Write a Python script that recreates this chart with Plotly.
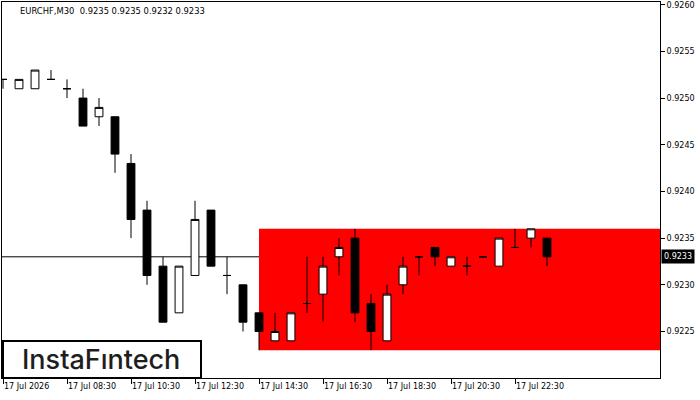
import plotly.graph_objects as go

# ---- data (EURCHF M30) ----
idx = list(range(35))
opens  = [0.9252, 0.9251, 0.9251, 0.9252, 0.9251, 0.9250, 0.9248, 0.9248, 0.9243, 0.9238,
          0.9232, 0.9227, 0.9231, 0.9238, 0.9231, 0.9230, 0.9227, 0.9224, 0.9224, 0.9228,
          0.9229, 0.9233, 0.9235, 0.9228, 0.9224, 0.9230, 0.9233, 0.9234, 0.9232, 0.9232,
          0.9233, 0.9232, 0.9234, 0.9235, 0.9235]
highs  = [0.9252, 0.9252, 0.9253, 0.9253, 0.9252, 0.9251, 0.9250, 0.9248, 0.9244, 0.9239,
          0.9233, 0.9232, 0.9239, 0.9238, 0.9233, 0.9230, 0.9227, 0.9227, 0.9227, 0.9233,
          0.9233, 0.9235, 0.9236, 0.9229, 0.9230, 0.9233, 0.9233, 0.9234, 0.9233, 0.9233,
          0.9233, 0.9235, 0.9236, 0.9236, 0.9235]
lows   = [0.9251, 0.9251, 0.9251, 0.9252, 0.9250, 0.9247, 0.9247, 0.9242, 0.9235, 0.9230,
          0.9226, 0.9227, 0.9231, 0.9232, 0.9229, 0.9225, 0.9223, 0.9224, 0.9224, 0.9227,
          0.9226, 0.9231, 0.9226, 0.9223, 0.9224, 0.9229, 0.9231, 0.9232, 0.9232, 0.9231,
          0.9233, 0.9232, 0.9234, 0.9234, 0.9232]
closes = [0.9252, 0.9252, 0.9253, 0.9252, 0.9251, 0.9247, 0.9249, 0.9244, 0.9237, 0.9231,
          0.9226, 0.9232, 0.9237, 0.9232, 0.9231, 0.9226, 0.9225, 0.9225, 0.9227, 0.9228,
          0.9232, 0.9234, 0.9227, 0.9225, 0.9229, 0.9232, 0.9233, 0.9233, 0.9233, 0.9232,
          0.9233, 0.9235, 0.9234, 0.9236, 0.9233]

tick_idx = [0, 4, 8, 12, 16, 20, 24, 28, 32]
tick_labels = ["17 Jul 2026", "17 Jul 08:30", "17 Jul 10:30", "17 Jul 12:30", "17 Jul 14:30",
               "17 Jul 16:30", "17 Jul 18:30", "17 Jul 20:30", "17 Jul 22:30"]
price_ticks = [0.9225, 0.9230, 0.9235, 0.9240, 0.9245, 0.9250, 0.9255, 0.9260]

rect_start = 16
rect_low, rect_high = 0.9223, 0.9236
current_price = 0.9233
title_text = "EURCHF,M30  0.9235 0.9235 0.9232 0.9233"

FONT = "DejaVu Sans"

fig = go.Figure()
fig.add_trace(go.Candlestick(
    x=idx, open=opens, high=highs, low=lows, close=closes,
    increasing=dict(line=dict(color="black", width=1), fillcolor="white"),
    decreasing=dict(line=dict(color="black", width=1), fillcolor="black"),
    whiskerwidth=0, hoverinfo="skip", showlegend=False,
))

fig.add_shape(type="rect", xref="x", yref="y", x0=rect_start, x1=50,
              y0=rect_low, y1=rect_high, fillcolor="#FF0000", line=dict(width=0),
              layer="below")
fig.add_shape(type="line", xref="paper", yref="y", x0=0, x1=1,
              y0=current_price, y1=current_price, line=dict(color="black", width=1),
              layer="below")

# logo
fig.add_shape(type="rect", xref="paper", yref="paper",
              x0=(3 - 2) / 658, x1=(201 - 2) / 658, y0=0, y1=(378 - 341) / 376,
              fillcolor="white", line=dict(color="black", width=2), layer="above")
fig.add_annotation(xref="paper", yref="paper", x=(101 - 2) / 658, y=(378 - 359) / 376,
                   text="InstaFıntech", showarrow=False, xanchor="center", yanchor="middle",
                   font=dict(family="Inter", size=27, color="#1e1e1e", weight=500))

# title
fig.add_annotation(xref="paper", yref="paper", x=(18 - 2) / 658, y=1 - (11 - 2) / 376,
                   text=title_text, showarrow=False, xanchor="left", yanchor="middle",
                   font=dict(family=FONT, size=8.4, color="black"))

# current price label
fig.add_annotation(xref="paper", yref="y", x=1, y=current_price, xanchor="left",
                   yanchor="middle", xshift=1, text="0.9233", showarrow=False,
                   bgcolor="black", borderpad=2,
                   font=dict(family=FONT, size=8, color="white"))

fig.update_layout(
    width=700, height=400,
    margin=dict(l=2, r=40, t=2, b=22, autoexpand=False),
    paper_bgcolor="white", plot_bgcolor="white",
    boxgap=0.3,
    showlegend=False,
    xaxis=dict(range=[-0.0625, 41.0625], rangeslider=dict(visible=False),
               automargin=False,
               showgrid=False, zeroline=False, showline=True, mirror=True,
               linecolor="black", linewidth=1, ticks="outside", ticklen=5,
               tickcolor="black", tickwidth=1, tickvals=tick_idx, ticktext=tick_labels,
               ticklabelposition="outside right",
               tickfont=dict(family=FONT, size=8, color="black")),
    yaxis=dict(range=[0.922002, 0.926029], side="right", showgrid=False, zeroline=False,
               automargin=False,
               showline=True, mirror=True, linecolor="black", linewidth=1,
               ticks="outside", ticklen=4, tickcolor="black", tickwidth=1,
               tickvals=price_ticks, ticktext=[f"{v:.4f}" for v in price_ticks],
               tickfont=dict(family=FONT, size=8, color="black")),
)

fig.write_html("out.html", config={"displayModeBar": False},
               post_script="document.body.style.margin='0';document.body.style.overflow='hidden';")
